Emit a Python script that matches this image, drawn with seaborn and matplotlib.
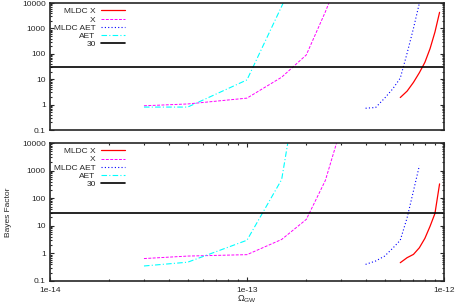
import numpy as np
import pandas as pd
import matplotlib
matplotlib.use("Agg")
import matplotlib.pyplot as plt
import seaborn as sns

# estilo
sns.set_style("ticks")
plt.rcParams["font.family"] = ["Liberation Sans", "DejaVu Sans"]
plt.rcParams["mathtext.default"] = "regular"
plt.rcParams["axes.linewidth"] = 1.2

# datos (Omega_GW -> Bayes factor)
omega_low = [3e-14, 5e-14, 1e-13, 1.5e-13, 2e-13, 2.5e-13, 3e-13]
omega_aet = [3e-14, 5e-14, 1e-13, 1.5e-13, 2e-13]
omega_mldc_aet = [4e-13, 4.5e-13, 5e-13, 5.5e-13, 6e-13, 6.5e-13, 7e-13, 7.5e-13, 8e-13]
omega_mldc_aet_b = [4e-13, 4.5e-13, 5e-13, 5.5e-13, 6e-13, 6.5e-13, 7e-13, 7.5e-13]
omega_mldc_x = [6e-13, 6.5e-13, 7e-13, 7.5e-13, 8e-13, 8.5e-13, 9e-13, 9.5e-13]

# panel superior
top_x = [0.9, 1.06, 1.8, 12, 90, 4500, 1.5e5]
top_aet = [0.8, 0.8, 9.4, 7400, 1e6]
top_mldc_aet = [0.72, 0.77, 1.8, 4.2, 11, 106, 1000, 9800, 6e4]
top_mldc_x = [1.9, 3.4, 7.5, 18, 46, 160, 720, 4300]

# panel inferior
bot_x = [0.65, 0.8, 0.9, 3.2, 17, 440, 34000]
bot_aet = [0.35, 0.48, 3.0, 475, 1e8]
bot_mldc_aet = [0.40, 0.53, 0.8, 1.55, 3.0, 19.5, 183, 1500]
bot_mldc_x = [0.46, 0.70, 0.92, 1.6, 3.5, 9.6, 28, 330]

threshold = 30
ytick_vals = [0.1, 1, 10, 100, 1000, 10000]
ytick_labels = ["0.1", "1", "10", "100", "1000", "10000"]
xtick_vals = [1e-14, 1e-13, 1e-12]
xtick_labels = ["1e-14", "1e-13", "1e-12"]

fig = plt.figure(figsize=(4.56, 3.07), dpi=100)
ax_top = fig.add_axes([0.1096, 0.5765, 0.8640, 0.4137])
ax_bot = fig.add_axes([0.1096, 0.0847, 0.8640, 0.4495])


def draw_panel(ax, mldc_x, x_vals, mldc_aet_x, mldc_aet, aet, anchor_y):
    sns.lineplot(x=omega_mldc_x, y=mldc_x, ax=ax, color="#ff0000", lw=0.9,
                 label="MLDC X", errorbar=None, sort=False)
    sns.lineplot(x=omega_low, y=x_vals, ax=ax, color="#ff00ff", lw=0.7,
                 linestyle=(0, (3, 1.5)), label="X", errorbar=None, sort=False)
    sns.lineplot(x=mldc_aet_x, y=mldc_aet, ax=ax, color="#0000ff", lw=0.8,
                 linestyle=(0, (1, 2)), label="MLDC AET", errorbar=None, sort=False)
    sns.lineplot(x=omega_aet, y=aet, ax=ax, color="#00ffff", lw=0.8,
                 linestyle=(0, (5, 2, 1, 2)), label="AET", errorbar=None, sort=False)
    ax.axhline(threshold, color="black", lw=1.2, label="30")

    ax.set_xscale("log")
    ax.set_yscale("log")
    ax.set_xlim(1e-14, 1e-12)
    ax.set_ylim(0.1, 10000)
    ax.set_yticks(ytick_vals)
    ax.set_yticklabels(ytick_labels)
    ax.set_xticks(xtick_vals)
    ax.set_xticklabels(xtick_labels)
    ax.tick_params(which="both", direction="in", top=True, right=True,
                   labelsize=6, pad=3, width=0.8)
    ax.tick_params(which="major", length=3)
    ax.tick_params(which="minor", length=1.5)
    ax.set_xlabel("")
    ax.set_ylabel("")
    ax.legend(loc="upper right", bbox_to_anchor=(0.19, anchor_y), markerfirst=False,
              frameon=False, fontsize=6, handlelength=2.9, handletextpad=0.6,
              labelspacing=0.05, borderpad=0, borderaxespad=0)


draw_panel(ax_top, top_mldc_x, top_x, omega_mldc_aet, top_mldc_aet, top_aet, 0.965)
draw_panel(ax_bot, bot_mldc_x, bot_x, omega_mldc_aet_b, bot_mldc_aet, bot_aet, 0.968)

# el panel superior no lleva ticks en x
ax_top.tick_params(axis="x", which="both", bottom=False, top=False, labelbottom=False)
ax_bot.tick_params(axis="x", which="major", pad=4)

ax_bot.set_xlabel(r"$\Omega_{GW}$", fontsize=6.5, labelpad=0)
ax_bot.set_ylabel("Bayes Factor", fontsize=6, labelpad=7)

fig.savefig("out.png", dpi=100)
